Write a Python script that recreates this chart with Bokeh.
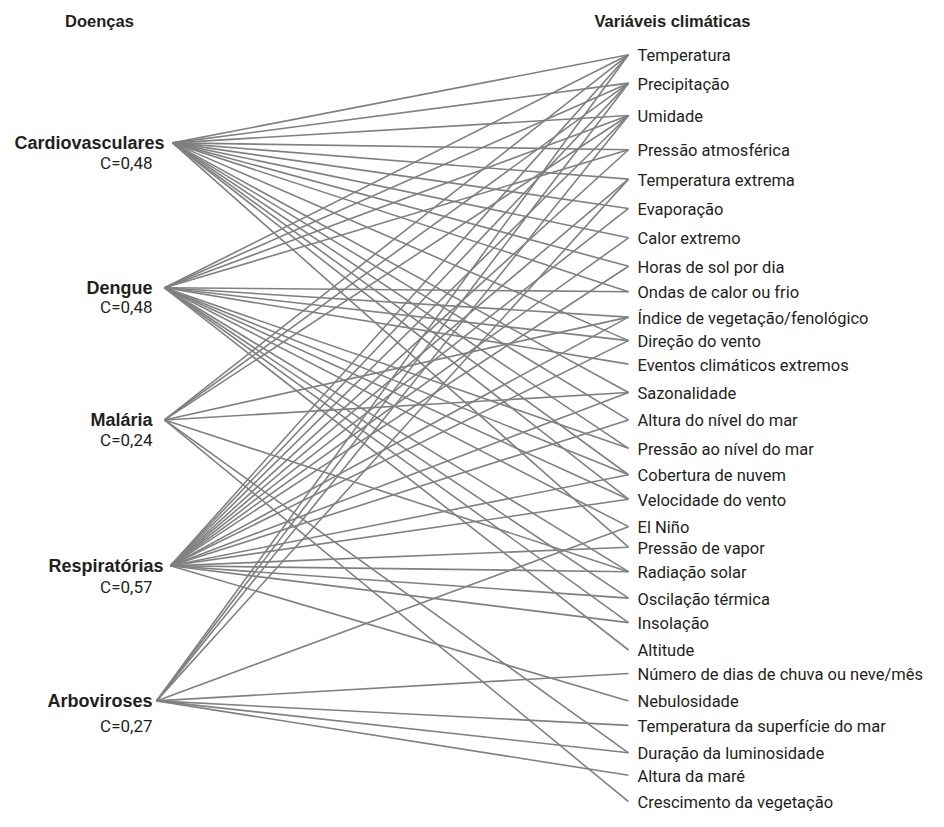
from bokeh.plotting import figure
from bokeh.models import Range1d
from bokeh.embed import file_html
from bokeh.resources import INLINE
from bokeh.core.properties import value

# ---------------- data ----------------
diseases = ["Cardiovasculares", "Dengue", "Malária", "Respiratórias", "Arboviroses"]
disease_c = ["C=0,48", "C=0,48", "C=0,24", "C=0,57", "C=0,27"]

variables = [
    "Temperatura", "Precipitação", "Umidade", "Pressão atmosférica",
    "Temperatura extrema", "Evaporação", "Calor extremo", "Horas de sol por dia",
    "Ondas de calor ou frio", "Índice de vegetação/fenológico", "Direção do vento",
    "Eventos climáticos extremos", "Sazonalidade", "Altura do nível do mar",
    "Pressão ao nível do mar", "Cobertura de nuvem", "Velocidade do vento",
    "El Niño", "Pressão de vapor", "Radiação solar", "Oscilação térmica",
    "Insolação", "Altitude", "Número de dias de chuva ou neve/mês",
    "Nebulosidade", "Temperatura da superfície do mar", "Duração da luminosidade",
    "Altura da maré", "Crescimento da vegetação",
]

links_cardiovasculares = [
    "Temperatura", "Precipitação", "Umidade", "Pressão atmosférica",
    "Temperatura extrema", "Evaporação", "Calor extremo", "Horas de sol por dia",
    "Ondas de calor ou frio", "Direção do vento", "Sazonalidade",
    "Altura do nível do mar", "Pressão ao nível do mar", "Cobertura de nuvem",
    "Velocidade do vento", "Pressão de vapor",
]
links_dengue = [
    "Temperatura", "Precipitação", "Umidade", "Pressão atmosférica",
    "Ondas de calor ou frio", "Índice de vegetação/fenológico", "Direção do vento",
    "Eventos climáticos extremos", "Pressão ao nível do mar", "Cobertura de nuvem",
    "Velocidade do vento", "El Niño", "Radiação solar", "Oscilação térmica",
    "Insolação", "Altitude",
]
links_malaria = [
    "Temperatura", "Precipitação", "Umidade", "Índice de vegetação/fenológico",
    "Sazonalidade", "Radiação solar", "Duração da luminosidade",
    "Crescimento da vegetação",
]
links_respiratorias = [
    "Temperatura", "Precipitação", "Umidade", "Pressão atmosférica",
    "Temperatura extrema", "Evaporação", "Calor extremo", "Horas de sol por dia",
    "Índice de vegetação/fenológico", "Direção do vento", "Sazonalidade",
    "Altura do nível do mar", "Cobertura de nuvem", "Velocidade do vento",
    "Pressão de vapor", "Radiação solar", "Oscilação térmica", "Insolação",
    "Nebulosidade",
]
links_arboviroses = [
    "Temperatura", "Precipitação", "Umidade", "Temperatura extrema", "El Niño",
    "Número de dias de chuva ou neve/mês", "Temperatura da superfície do mar",
    "Duração da luminosidade", "Altura da maré",
]
links = [links_cardiovasculares, links_dengue, links_malaria,
         links_respiratorias, links_arboviroses]

# ---------------- layout (picture pixel coordinates) ----------------
disease_node_x = [172, 164, 164, 170, 156]
disease_node_y = [145, 293, 428, 577, 715]
disease_label_right = [164, 152, 152, 163, 152]
disease_c_y = [166, 313, 449, 599, 741]
var_node_x = 628
var_node_y = [55, 84, 117, 152, 182, 212, 242, 271, 297, 323, 347, 371, 400,
              428, 457, 484, 509, 537, 558, 583, 610, 635, 663, 687, 715, 740,
              768, 791, 818]

def sy(v):
    # slight vertical squeeze anchored at the top so the last label fits
    return 20 + (v - 20) * 0.979

W, H = 928, 811
p = figure(width=W, height=H, output_backend="svg", toolbar_location=None,
           x_range=Range1d(0, W), y_range=Range1d(H, 0),
           min_border=0, outline_line_color=None, background_fill_color="white")
p.axis.visible = False
p.grid.visible = False

x0, y0, x1, y1 = [], [], [], []
for i, lst in enumerate(links):
    for v in lst:
        j = variables.index(v)
        x0.append(disease_node_x[i]); y0.append(sy(disease_node_y[i]))
        x1.append(var_node_x); y1.append(sy(var_node_y[j]))
p.segment(x0=x0, y0=y0, x1=x1, y1=y1, line_color="#808080", line_width=1.6)

# variable labels
p.text(x=[var_node_x + 9] * len(variables), y=[sy(y) + 1 for y in var_node_y],
       text=variables, text_font=value("Roboto"),
       text_font_size="16.5px", text_baseline="middle", text_align="left",
       text_color="#231f20")

# disease labels
p.text(x=disease_label_right, y=[sy(y) for y in disease_node_y], text=diseases,
       text_font=value("Liberation Sans"), text_font_style="bold",
       text_font_size="18px", text_baseline="middle", text_align="right",
       text_color="#231f20")
p.text(x=[152] * 5, y=[sy(y) for y in disease_c_y], text=disease_c,
       text_font=value("Roboto"), text_font_size="17px",
       text_baseline="middle", text_align="right", text_color="#231f20")

# headings
p.text(x=[99, 672], y=[sy(21), sy(21)], text=["Doenças", "Variáveis climáticas"],
       text_font=value("Liberation Sans"), text_font_style="bold",
       text_font_size="16.5px", text_baseline="middle", text_align="center",
       text_color="#231f20")

open("out.html", "w").write(file_html(p, INLINE))
